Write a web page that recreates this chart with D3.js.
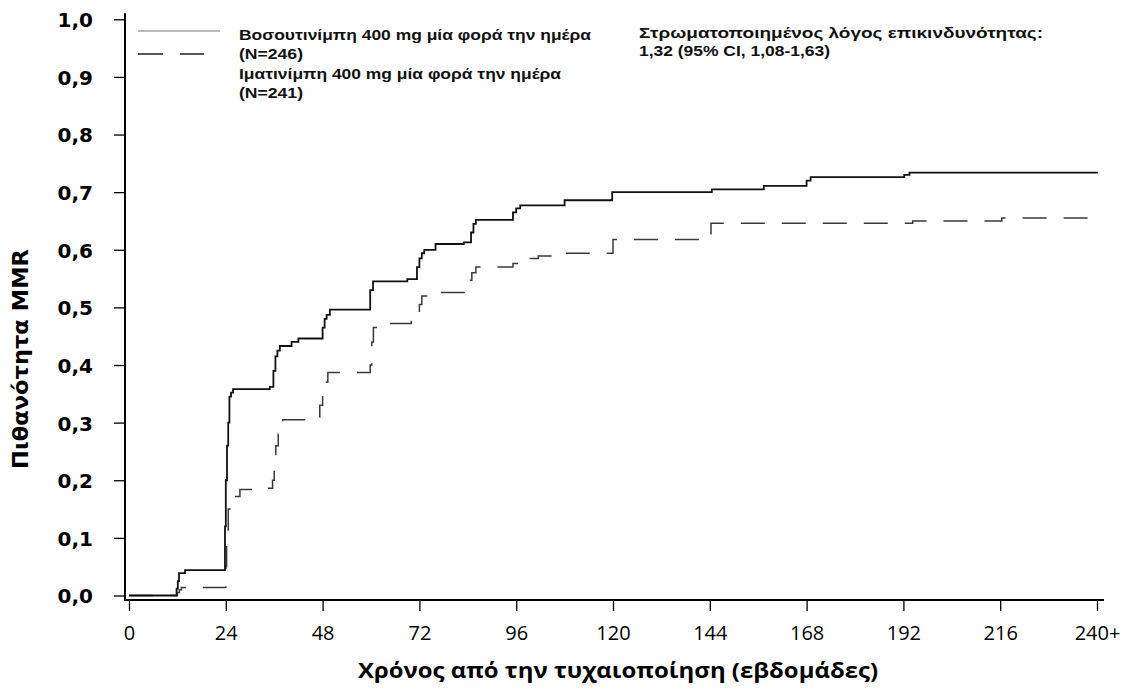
<!DOCTYPE html>
<html>
<head>
<meta charset="utf-8">
<script src="https://cdn.jsdelivr.net/npm/d3@7"></script>
<style>
  html, body { margin: 0; padding: 0; background: #fff; }
  svg { display: block; }
</style>
</head>
<body>
<svg id="chart" width="1127" height="688"></svg>
<script>
// ---- data ----
const bosWeeks = [0, 11.8, 12.1, 12.4, 13.9, 23.8, 24.0, 24.3, 24.6, 24.9, 25.3, 25.8, 34.9, 35.8, 36.3, 36.8, 37.4, 40.3, 42.0, 48.0, 48.5, 49.0, 49.8, 59.8, 60.5, 69.0, 71.4, 72.0, 72.6, 73.2, 76.0, 83.0, 84.8, 85.4, 86.0, 95.2, 96.0, 97.0, 108.0, 119.8, 144.5, 157.4, 168.0, 169.0, 192.2, 193.5, 240.2];
const bosProb  = [0, 0.012, 0.025, 0.039, 0.044, 0.12, 0.20, 0.26, 0.30, 0.345, 0.352, 0.358, 0.362, 0.39, 0.415, 0.425, 0.433, 0.44, 0.446, 0.465, 0.48, 0.487, 0.496, 0.53, 0.545, 0.549, 0.57, 0.585, 0.594, 0.60, 0.61, 0.613, 0.63, 0.645, 0.652, 0.665, 0.672, 0.677, 0.686, 0.70, 0.705, 0.711, 0.72, 0.726, 0.73, 0.734, 0.734];

const imaWeeks = [0, 12.0, 12.5, 13.0, 24.0, 24.2, 24.6, 25.2, 25.9, 27.5, 33.0, 35.6, 36.0, 36.4, 37.0, 38.1, 46.9, 47.3, 48.0, 48.5, 49.3, 59.8, 60.2, 60.6, 64.0, 70.0, 71.5, 72.0, 72.6, 74.0, 84.4, 85.0, 86.0, 95.2, 99.5, 101.5, 108.5, 120.0, 144.3, 194.3, 216.4, 240.2];
const imaProb  = [0, 0.005, 0.01, 0.014, 0.05, 0.10, 0.15, 0.165, 0.172, 0.184, 0.186, 0.20, 0.23, 0.26, 0.28, 0.305, 0.31, 0.33, 0.35, 0.37, 0.387, 0.40, 0.44, 0.465, 0.472, 0.478, 0.49, 0.505, 0.52, 0.526, 0.547, 0.56, 0.57, 0.576, 0.585, 0.589, 0.594, 0.618, 0.646, 0.65, 0.655, 0.655];

const xTicks = [0, 24, 48, 72, 96, 120, 144, 168, 192, 216, 240];
const xTickLabels = ["0", "24", "48", "72", "96", "120", "144", "168", "192", "216", "240+"];
const yTicks = [0, 0.1, 0.2, 0.3, 0.4, 0.5, 0.6, 0.7, 0.8, 0.9, 1.0];
const yTickLabels = ["0,0", "0,1", "0,2", "0,3", "0,4", "0,5", "0,6", "0,7", "0,8", "0,9", "1,0"];

const seriesNames = ["Βοσουτινίμπη 400 mg μία φορά την ημέρα", "Ιματινίμπη 400 mg μία φορά την ημέρα"];
const seriesN = ["(N=246)", "(N=241)"];
const hrLines = ["Στρωματοποιημένος λόγος επικινδυνότητας:", "1,32 (95% CI, 1,08-1,63)"];
const xTitle = "Χρόνος από την τυχαιοποίηση (εβδομάδες)";
const yTitle = "Πιθανότητα MMR";

// ---- layout ----
const svg = d3.select("#chart");
const x = d3.scaleLinear().domain([0, 240]).range([129, 1097]);
const y = d3.scaleLinear().domain([0, 1]).range([595.5, 19.3]);
const axisX = 125, axisY = 600;

// axis lines
svg.append("line").attr("x1", axisX).attr("x2", axisX)
  .attr("y1", y(1) - 6).attr("y2", axisY + 1)
  .attr("stroke", "#000").attr("stroke-width", 2);
svg.append("line").attr("x1", axisX - 1).attr("x2", x(240) + 7)
  .attr("y1", axisY).attr("y2", axisY)
  .attr("stroke", "#000").attr("stroke-width", 2);

// y axis
const gy = svg.append("g").attr("transform", `translate(${axisX},0)`)
  .call(d3.axisLeft(y).tickValues(yTicks).tickSize(11).tickPadding(21)
    .tickFormat((d, i) => yTickLabels[i]));
gy.select(".domain").remove();
gy.selectAll(".tick line").attr("stroke", "#000").attr("stroke-width", 1.3);
gy.selectAll(".tick text")
  .attr("font-family", "DejaVu Sans").attr("font-weight", "bold")
  .attr("font-size", 20).attr("fill", "#000").attr("dy", "0.37em");

// x axis
const gx = svg.append("g").attr("transform", `translate(0,${axisY})`)
  .call(d3.axisBottom(x).tickValues(xTicks).tickSize(11)
    .tickFormat((d, i) => xTickLabels[i]));
gx.select(".domain").remove();
gx.selectAll(".tick line").attr("stroke", "#000").attr("stroke-width", 1.3);
gx.selectAll(".tick text")
  .attr("font-family", "Open Sans").attr("font-size", 20).attr("fill", "#000")
  .attr("y", 40).attr("dy", 0);

// axis titles
svg.append("text").attr("x", 618).attr("y", 678)
  .attr("text-anchor", "middle").attr("font-family", "Open Sans")
  .attr("font-weight", "bold").attr("font-size", 21)
  .attr("textLength", 520).attr("lengthAdjust", "spacingAndGlyphs")
  .text(xTitle);
svg.append("text").attr("transform", "translate(28,359) rotate(-90)")
  .attr("text-anchor", "middle").attr("font-family", "DejaVu Sans")
  .attr("font-weight", "bold").attr("font-size", 21)
  .attr("textLength", 220).attr("lengthAdjust", "spacingAndGlyphs")
  .text(yTitle);

// curves
const line = d3.line().x(d => x(d[0])).y(d => y(d[1])).curve(d3.curveStepAfter);
const bos = bosWeeks.map((w, i) => [w, bosProb[i]]);
const ima = imaWeeks.map((w, i) => [w, imaProb[i]]);

svg.append("path").datum(ima).attr("d", line)
  .attr("fill", "none").attr("stroke", "#3a3a3a").attr("stroke-width", 1.5)
  .attr("stroke-dasharray", "24,17");
svg.append("path").datum(bos).attr("d", line)
  .attr("fill", "none").attr("stroke", "#111").attr("stroke-width", 1.8);

// legend
svg.append("line").attr("x1", 138).attr("x2", 220).attr("y1", 31).attr("y2", 31)
  .attr("stroke", "#777").attr("stroke-width", 1.2);
svg.append("line").attr("x1", 138).attr("x2", 204).attr("y1", 54).attr("y2", 54)
  .attr("stroke", "#222").attr("stroke-width", 1.4).attr("stroke-dasharray", "25,17");

const legTxt = [
  {t: seriesNames[0], y: 40, w: 352},
  {t: seriesN[0], y: 59, w: 64},
  {t: seriesNames[1], y: 79, w: 322},
  {t: seriesN[1], y: 98, w: 64}
];
svg.selectAll(".leg").data(legTxt).enter().append("text")
  .attr("x", 239).attr("y", d => d.y)
  .attr("font-family", "Liberation Sans").attr("font-weight", "bold")
  .attr("font-size", 14.5).attr("fill", "#111")
  .attr("textLength", d => d.w).attr("lengthAdjust", "spacingAndGlyphs")
  .text(d => d.t);

const hrTxt = [{t: hrLines[0], y: 38, w: 404}, {t: hrLines[1], y: 56, w: 191}];
svg.selectAll(".hr").data(hrTxt).enter().append("text")
  .attr("x", 639).attr("y", d => d.y)
  .attr("font-family", "Liberation Sans").attr("font-weight", "bold")
  .attr("font-size", 14.5).attr("fill", "#111")
  .attr("textLength", d => d.w).attr("lengthAdjust", "spacingAndGlyphs")
  .text(d => d.t);
</script>
</body>
</html>
